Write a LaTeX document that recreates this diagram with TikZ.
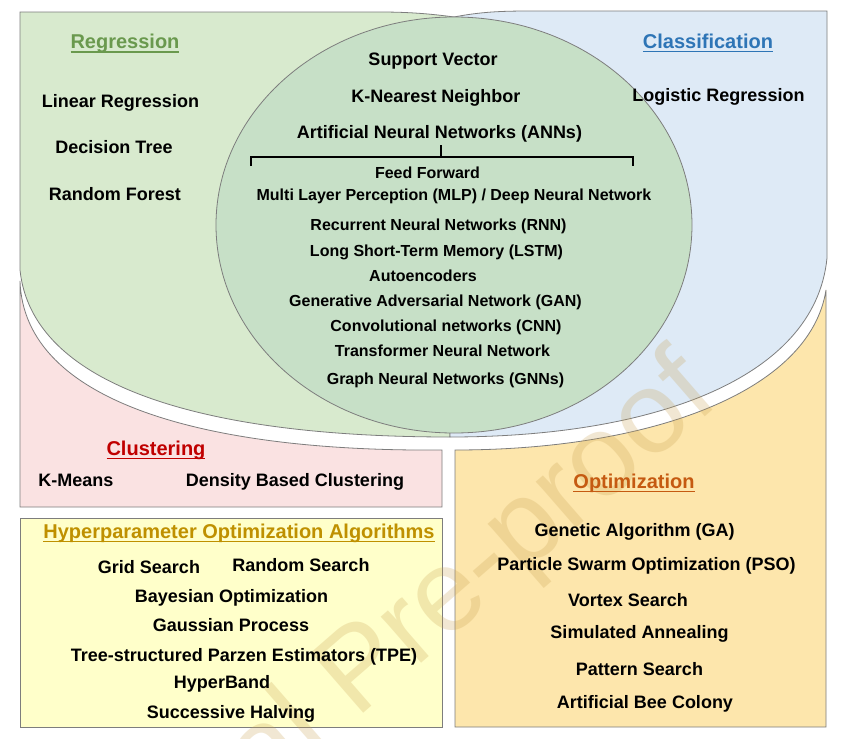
\documentclass[tikz,border=0pt]{standalone}
\usepackage{fontspec}
\setmainfont{Liberation Sans}
\definecolor{reggreen}{RGB}{216,234,206}
\definecolor{annsgreen}{RGB}{199,224,199}
\definecolor{clsblue}{RGB}{222,234,246}
\definecolor{clupink}{RGB}{250,226,226}
\definecolor{hypyellow}{RGB}{255,255,202}
\definecolor{optgold}{RGB}{253,230,172}
\definecolor{edgegray}{RGB}{125,125,125}
\definecolor{regtext}{RGB}{106,153,78}
\definecolor{clstext}{RGB}{46,117,182}
\definecolor{clutext}{RGB}{192,0,0}
\definecolor{opttext}{RGB}{197,90,17}
\definecolor{hyptext}{RGB}{191,144,0}
\definecolor{marktext}{RGB}{200,160,80}
\newcommand{\headline}[1]{\setbox0\hbox{#1}\dp0=0pt\vtop{\box0\kern2.5pt\hrule height1.5pt}}
\begin{document}
\begin{tikzpicture}[x=1pt,y=-1pt,
    area/.style={draw=edgegray,line width=0.8pt},
    head/.style={font=\fontsize{20}{22}\selectfont\bfseries,inner sep=0pt,anchor=base},
    item/.style={font=\fontsize{18}{20}\selectfont\bfseries,inner sep=0pt,anchor=base},
    subitem/.style={font=\fontsize{16}{18}\selectfont\bfseries,inner sep=0pt,anchor=base}]
  \useasboundingbox (0,0) rectangle (855,739);
  \fill[white] (0,0) rectangle (855,739);
  \draw[area,fill=reggreen] (20,12) -- (380,12) .. controls (410,12) and (432,14) .. (454,17)
    -- (450,437) .. controls (200,437) and (32,385) .. (20,270) -- cycle;
  \draw[area,fill=clsblue] (454,17) .. controls (480,12) and (500,11) .. (530,11) -- (827,11)
    -- (827,258) .. controls (815,380) and (650,437) .. (450,437) -- cycle;
  \draw[area,fill=annsgreen] (454,225) ellipse [x radius=238pt,y radius=208pt];
  \draw[area,fill=clupink] (20,281) .. controls (24,404) and (210,452) .. (442,450)
    -- (442,507) -- (20,507) -- cycle;
  \draw[area,fill=optgold] (826,290) .. controls (810,392) and (650,450) .. (455,450)
    -- (455,727) -- (826,727) -- cycle;
  \draw[area,fill=hypyellow] (20,518) rectangle (442,727);
  \begin{scope}
    \clip (0,0) rectangle (855,739);
    \node[font=\fontsize{116}{116}\selectfont,text=marktext,opacity=0.25,
      rotate=41,anchor=base east,inner sep=0pt] (mark) at (722,402) {Journal Pre-proof};
  \end{scope}
  \node[head,text=regtext] (reg) at (125,48.5) {\headline{Regression}};
  \node[item] (linreg) at (120.5,107) {Linear Regression};
  \node[item] (dtree) at (114,153) {Decision Tree};
  \node[item] (rforest) at (115,200) {Random Forest};
  \node[head,text=clstext] (cls) at (708,48) {\headline{Classification}};
  \node[item] (logreg) at (718.5,101) {Logistic Regression};
  \node[item] (svm) at (433,65) {Support Vector};
  \node[item] (knn) at (436,102) {K-Nearest Neighbor};
  \node[item] (ann) at (439.5,138) {Artificial Neural Networks (ANNs)};
  \coordinate (stem) at (441,145);
  \coordinate (brl) at (251,166);
  \coordinate (brr) at (633,166);
  \draw[line width=1.3pt] (brl) -- ++(0,-9) -| (brr);
  \draw[line width=1.3pt] (stem) -- ++(0,12);
  \node[subitem] (ff) at (427.5,178) {Feed Forward};
  \node[subitem] (mlp) at (454,200.5) {Multi Layer Perception (MLP) / Deep Neural Network};
  \node[subitem] (rnn) at (438.5,230) {Recurrent Neural Networks (RNN)};
  \node[subitem] (lstm) at (436.5,256.5) {Long Short-Term Memory (LSTM)};
  \node[subitem] (ae) at (423,281.5) {Autoencoders};
  \node[subitem] (gan) at (435.5,306.5) {Generative Adversarial Network (GAN)};
  \node[subitem] (cnn) at (446,331.5) {Convolutional networks (CNN)};
  \node[subitem] (tnn) at (442.5,356.5) {Transformer Neural Network};
  \node[subitem] (gnn) at (445.5,384.5) {Graph Neural Networks (GNNs)};
  \node[head,text=clutext] (clu) at (156,455) {\headline{Clustering}};
  \node[item] (kmeans) at (76,486.5) {K-Means};
  \node[item] (dbscan) at (295,486.5) {Density Based Clustering};
  \node[head,text=hyptext] (hyp) at (239,538) {\headline{Hyperparameter Optimization Algorithms}};
  \node[item] (grid) at (149,573) {Grid Search};
  \node[item] (rand) at (301,571) {Random Search};
  \node[item] (bayes) at (231.5,602) {Bayesian Optimization};
  \node[item] (gp) at (231,631.5) {Gaussian Process};
  \node[item] (tpe) at (244,661) {Tree-structured Parzen Estimators (TPE)};
  \node[item] (hband) at (222,688) {HyperBand};
  \node[item] (sh) at (231,718) {Successive Halving};
  \node[head,text=opttext] (opt) at (634,488) {\headline{Optimization}};
  \node[item] (ga) at (634.5,536.5) {Genetic Algorithm (GA)};
  \node[item] (pso) at (646.5,570) {Particle Swarm Optimization (PSO)};
  \node[item] (vortex) at (628,606.5) {Vortex Search};
  \node[item] (sa) at (639.5,638) {Simulated Annealing};
  \node[item] (pattern) at (639.5,675) {Pattern Search};
  \node[item] (abc) at (645,708) {Artificial Bee Colony};
\end{tikzpicture}
\end{document}
